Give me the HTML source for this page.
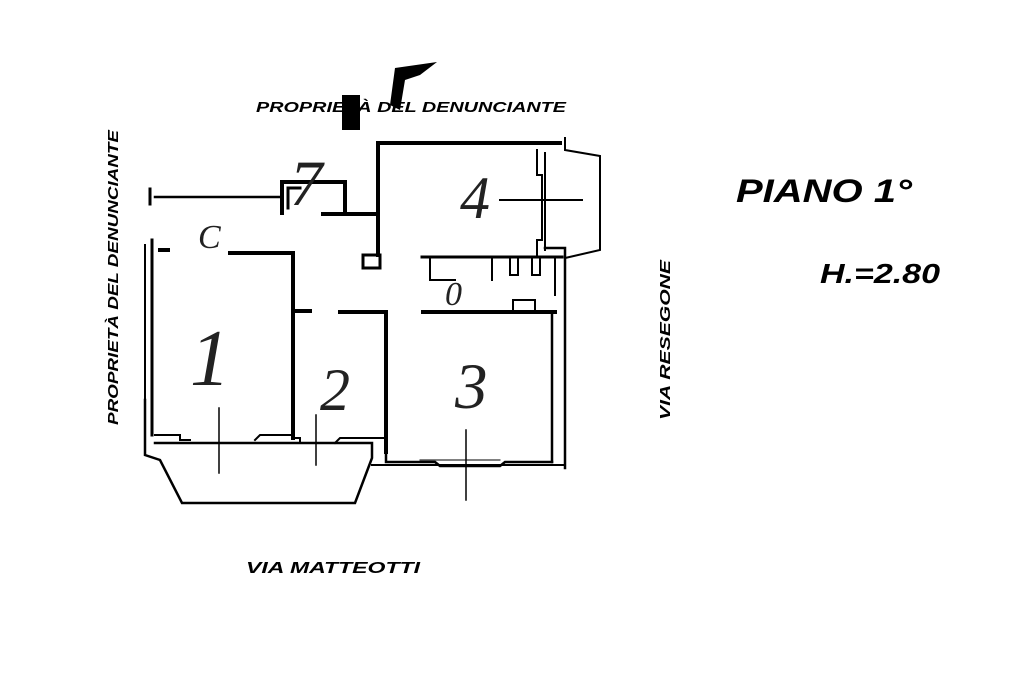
<!DOCTYPE html>
<html><head><meta charset="utf-8"><style>
html,body{margin:0;padding:0;background:#fff;}
svg{display:block;}
text{font-family:"Liberation Sans",sans-serif;font-weight:bold;font-style:italic;fill:#000;}
.h{font-family:"Liberation Serif",serif;font-weight:normal;fill:#222;}
</style></head><body>
<svg width="1024" height="682" viewBox="0 0 1024 682" xmlns="http://www.w3.org/2000/svg">
<g stroke="#000" fill="none" stroke-width="3" stroke-linecap="square">
<line x1="155" y1="197" x2="282" y2="197" stroke-width="2.5"/>
<line x1="150" y1="189" x2="150" y2="204" stroke-width="3"/>
<path d="M282 213 L282 182 L345 182 L345 213" stroke-width="4"/>
<path d="M288 208 L288 188 L300 188" stroke-width="3"/>
<line x1="323" y1="214" x2="377" y2="214" stroke-width="4"/>
<line x1="378" y1="143" x2="378" y2="255" stroke-width="4"/>
<line x1="378" y1="143" x2="560" y2="143" stroke-width="4"/>
<path d="M565 138 L565 150 L600 156 L600 250 L565 258" stroke-width="2"/>
<path d="M537 150 L537 175 L542 175 L542 240 L537 240 L537 255" stroke-width="2"/>
<path d="M545 153 L545 250" stroke-width="2"/>
<path d="M545 248 L565 248 L565 468" stroke-width="2.5"/>
<path d="M363 268 L363 255 L380 255 L380 268 Z" stroke-width="3"/>
<line x1="422" y1="257" x2="562" y2="257" stroke-width="3"/>
<path d="M430 257 L430 280 L455 280" stroke-width="2"/>
<path d="M492 257 L492 280" stroke-width="2"/>
<path d="M510 258 L510 275 L518 275 L518 258" stroke-width="2"/>
<path d="M532 258 L532 275 L540 275 L540 258" stroke-width="2"/>
<path d="M555 258 L555 295" stroke-width="2"/>
<path d="M513 312 L513 300 L535 300 L535 312" stroke-width="2"/>
<line x1="152" y1="240" x2="152" y2="435" stroke-width="3"/>
<line x1="145" y1="245" x2="145" y2="400" stroke-width="2"/>
<line x1="160" y1="250" x2="168" y2="250" stroke-width="4"/>
<line x1="230" y1="253" x2="293" y2="253" stroke-width="4"/>
<line x1="293" y1="253" x2="293" y2="438" stroke-width="4"/>
<path d="M155 435 L180 435 L180 440 L190 440 M255 440 L260 435 L293 435" stroke-width="2"/>
<line x1="294" y1="311" x2="310" y2="311" stroke-width="4"/>
<line x1="340" y1="312" x2="385" y2="312" stroke-width="4"/>
<line x1="386" y1="312" x2="386" y2="452" stroke-width="4"/>
<path d="M293 438 L300 438 L300 443 M335 443 L340 438 L386 438" stroke-width="2"/>
<line x1="423" y1="312" x2="555" y2="312" stroke-width="4"/>
<line x1="552" y1="312" x2="552" y2="462" stroke-width="2.5"/>
<path d="M386 452 L386 462 L435 462 L440 466 L500 466 L505 462 L552 462" stroke-width="2.5"/>
<line x1="372" y1="465" x2="565" y2="465" stroke-width="2"/>
<path d="M145 400 L145 455 L160 460 L182 503 L355 503 L372 458 L372 443 L155 443" stroke-width="2.5"/>
<line x1="219" y1="408" x2="219" y2="473" stroke-width="1.5"/>
<line x1="316" y1="415" x2="316" y2="465" stroke-width="1.5"/>
<line x1="466" y1="430" x2="466" y2="500" stroke-width="1.5"/>
<line x1="420" y1="460" x2="500" y2="460" stroke-width="1"/>
<line x1="500" y1="200" x2="582" y2="200" stroke-width="2"/>
</g>
<text class="h" x="190" y="385" font-size="80">1</text>
<text class="h" x="320" y="410" font-size="60">2</text>
<text class="h" x="455" y="408" font-size="65">3</text>
<text class="h" x="460" y="218" font-size="60">4</text>
<text class="h" x="198" y="248" font-size="34">C</text>
<text class="h" x="445" y="305" font-size="34">0</text>
<text class="h" x="290" y="205" font-size="65">7</text>
<rect x="342" y="95" width="18" height="35" fill="#000"/>
<path d="M395 68 L437 62 L420 75 L405 80 L400 110 L390 105 Z" fill="#000"/>
<text x="256" y="112" font-size="15" textLength="310" lengthAdjust="spacingAndGlyphs">PROPRIETÀ DEL DENUNCIANTE</text>
<text transform="translate(118,425) rotate(-90)" font-size="15" textLength="295" lengthAdjust="spacingAndGlyphs">PROPRIETÀ DEL DENUNCIANTE</text>
<text transform="translate(670,420) rotate(-90)" font-size="15" textLength="160" lengthAdjust="spacingAndGlyphs">VIA RESEGONE</text>
<text x="246" y="573" font-size="16" textLength="174" lengthAdjust="spacingAndGlyphs">VIA MATTEOTTI</text>
<text x="736" y="202" font-size="32" textLength="176" lengthAdjust="spacingAndGlyphs">PIANO 1°</text>
<text x="820" y="283" font-size="28" textLength="120" lengthAdjust="spacingAndGlyphs">H.=2.80</text>
</svg>
</body></html>
